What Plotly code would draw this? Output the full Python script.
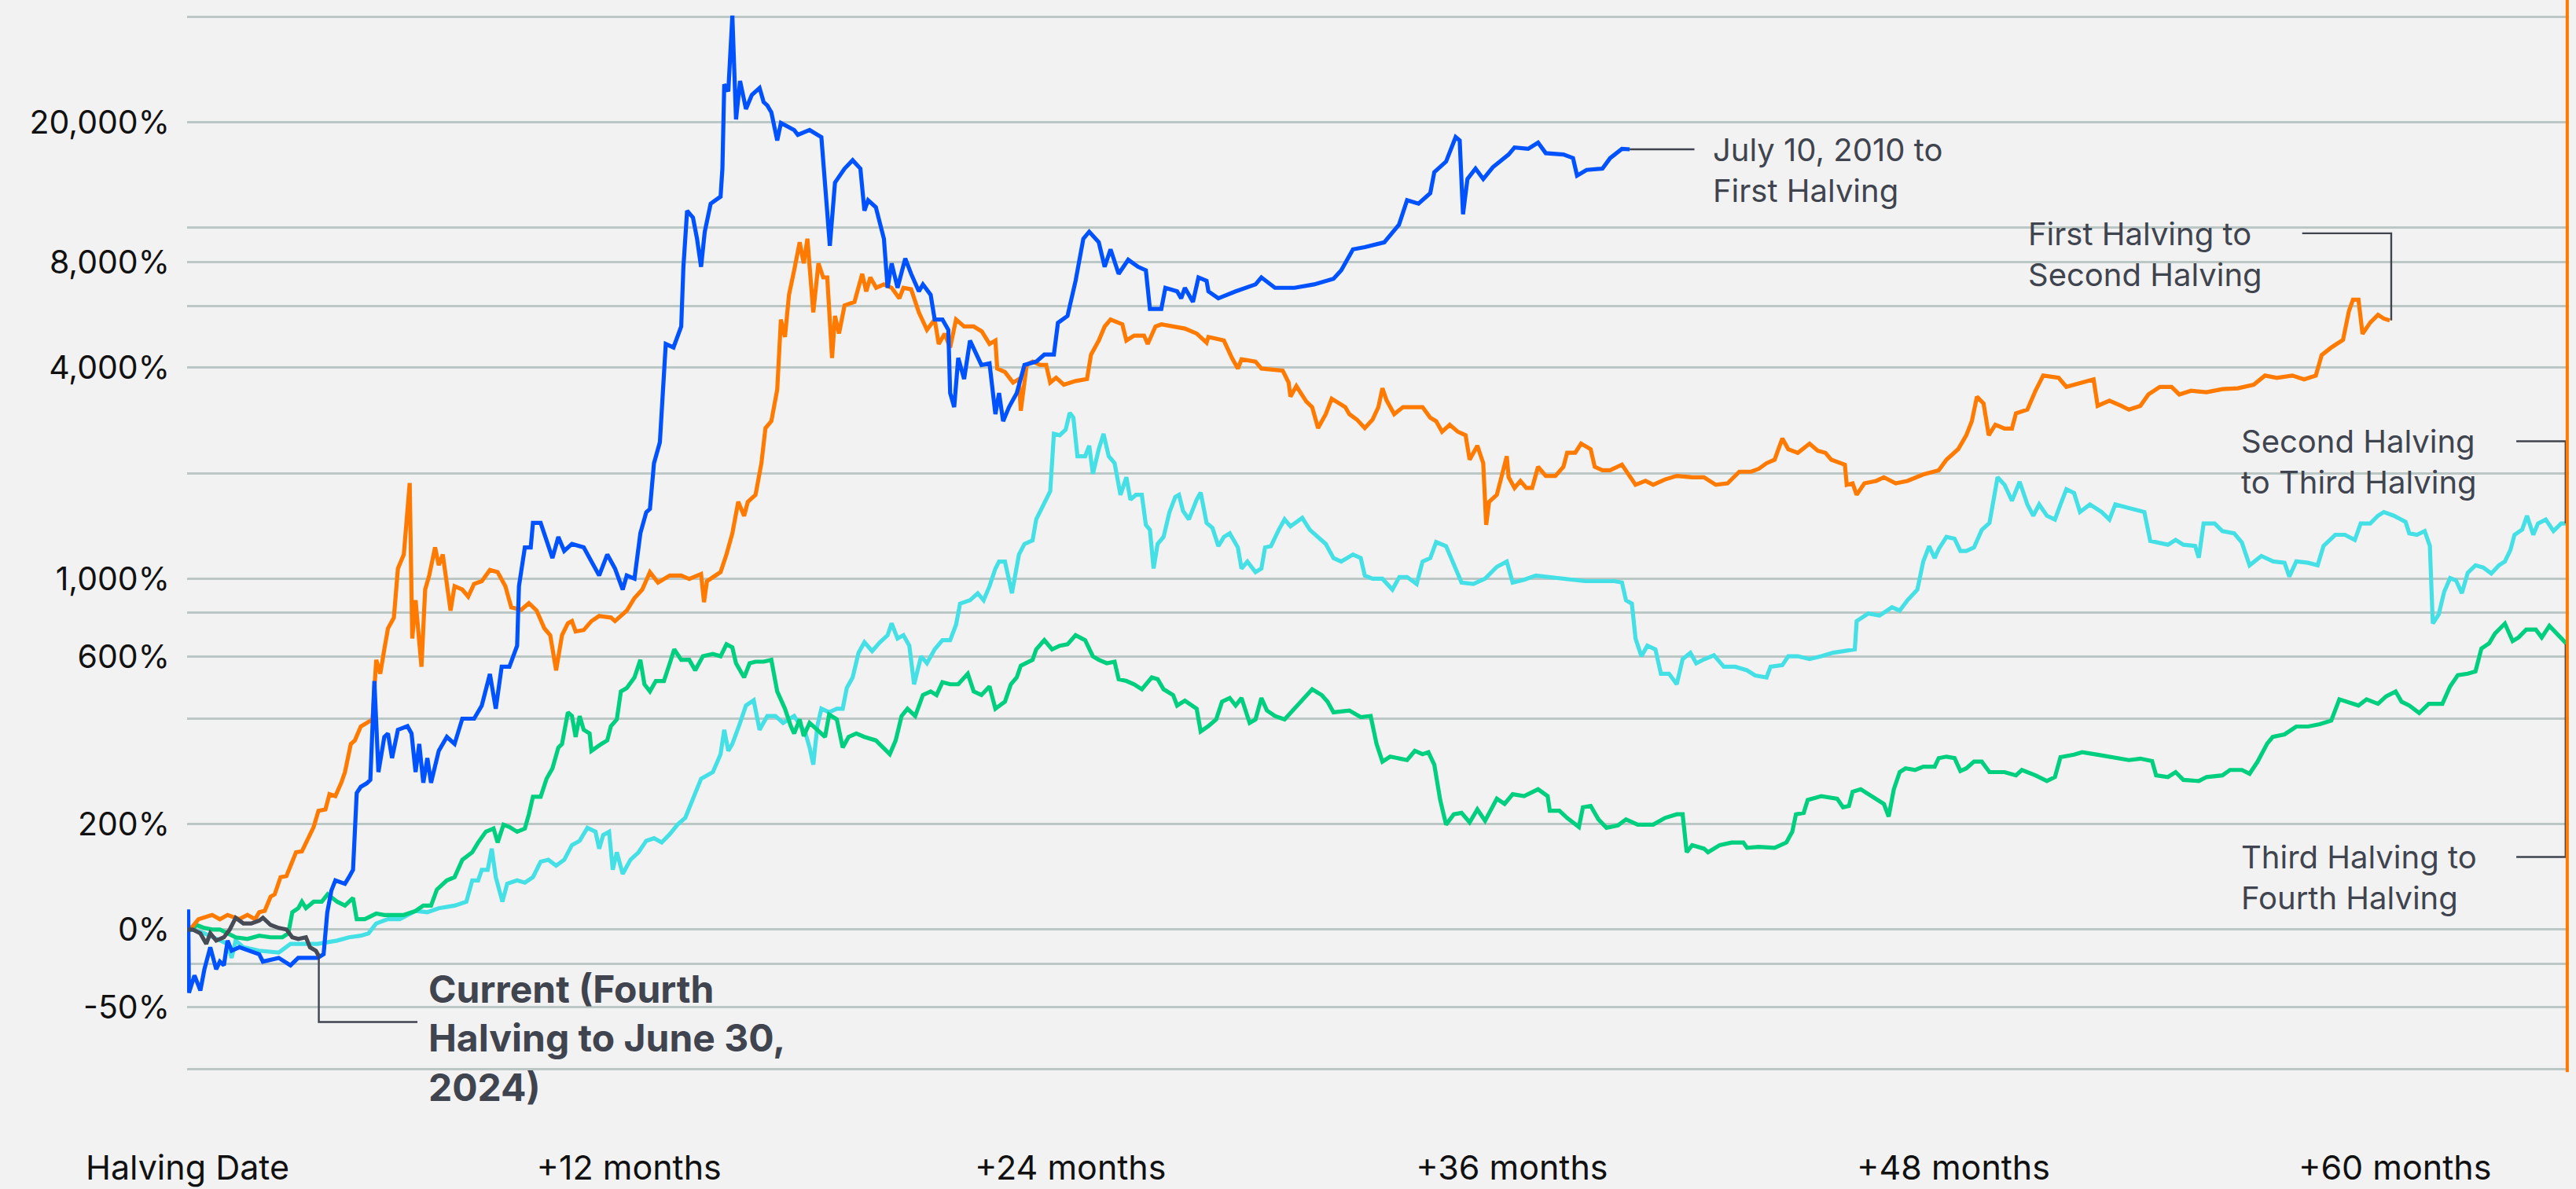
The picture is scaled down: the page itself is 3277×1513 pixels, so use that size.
import math
import plotly.graph_objects as go

# ---------------- data (x = months since halving, y = index, start = 100) ----------------
blue_x = [0, 0.02, 0.04, 0.19, 0.35, 0.46, 0.62, 0.78, 0.88, 0.99, 1.09, 1.2, 1.41, 1.95, 2.05, 2.48, 2.8, 3.01, 3.54, 3.7,
          3.8, 3.91, 4.02, 4.28, 4.39, 4.5, 4.6, 4.71, 4.87, 4.97, 5.08, 5.19, 5.35, 5.45, 5.56, 5.72, 5.98, 6.09, 6.2, 6.3,
          6.41, 6.52, 6.62, 6.83, 7.05, 7.26, 7.47, 7.79, 8.0, 8.22, 8.38, 8.54, 8.75, 8.96, 9.01, 9.17, 9.33, 9.39, 9.6, 9.81,
          9.92, 10.08, 10.24, 10.45, 10.77, 10.98, 11.19, 11.41, 11.62, 11.83, 11.94, 12.15, 12.31, 12.47, 12.57, 12.68, 12.84,
          13.0, 13.21, 13.42, 13.48, 13.58, 13.74, 13.85, 13.96, 14.06, 14.22, 14.49, 14.54, 14.59, 14.7, 14.81, 14.91, 15.02,
          15.18, 15.34, 15.55, 15.66, 15.76, 15.87, 16.03, 16.13, 16.49, 16.59, 16.91, 17.23, 17.33, 17.46, 17.6, 17.86, 18.08,
          18.29, 18.4, 18.5, 18.71, 18.93, 19.03, 19.14, 19.3, 19.51, 19.67, 19.88, 19.99, 20.2, 20.31, 20.52, 20.68, 20.73,
          20.84, 20.95, 21.11, 21.27, 21.58, 21.8, 21.96, 22.06, 22.17, 22.33, 22.54, 22.75, 23.07, 23.29, 23.55, 23.66, 23.92,
          24.14, 24.35, 24.51, 24.77, 24.93, 25.09, 25.31, 25.57, 25.84, 26.05, 26.16, 26.47, 26.58, 26.9, 27.01, 27.11, 27.33,
          27.48, 27.7, 27.75, 28.02, 28.49, 29.03, 29.19, 29.56, 30.09, 30.62, 31.15, 31.36, 31.68, 32.0, 32.53, 32.93, 33.15,
          33.46, 33.78, 33.89, 34.21, 34.47, 34.58, 34.67, 34.79, 35.01, 35.22, 35.48, 35.91, 36.07, 36.44, 36.71, 36.92, 37.4,
          37.66, 37.77, 38.03, 38.46, 38.67, 38.99, 39.2]
blue_y = [100, 114, 66, 74, 67, 77, 89, 77, 81, 79, 93, 87, 89, 85, 81, 83, 79, 83, 83, 85,
          112, 129, 138, 135, 141, 148, 245, 255, 261, 267, 511, 281, 354, 362, 308, 371, 380, 362, 281, 338,
          262, 308, 262, 323, 354, 338, 399, 399, 435, 535, 426, 561, 561, 644, 952, 1228, 1228, 1442, 1442, 1228,
          1145, 1315, 1200, 1256, 1228, 1119, 1021, 1172, 1069, 931, 1021, 1000, 1347, 1546, 1581, 2134, 2449,
          4667, 4560, 5235, 7745, 11197, 10696, 9312, 7745, 9751, 11723, 12275, 14758, 25657, 24493, 40273, 20380, 26237,
          21820, 23940, 25063, 22849, 22340, 21340, 17746, 19910, 19011, 18417, 19011, 18149, 12859, 8894, 13464, 14758, 15591,
          14758, 11197, 11995, 11451, 9312, 6748, 7925, 6748, 8185, 7396, 6591, 6901, 6445, 5481, 5481, 5120, 3382,
          3084, 4258, 3707, 4775, 4066, 4110, 2945, 3382, 2812, 3084, 3382, 4066, 4158, 4354, 4354, 5362, 5612,
          7065, 9312, 9751, 9096, 7745, 8686, 7396, 8113, 7745, 7568, 5876, 5876, 6748, 6591, 6296, 6748, 6153,
          7225, 7065, 6591, 6296, 6591, 6901, 7225, 6748, 6748, 6901, 7160, 7568, 8686, 8814, 9096, 10214, 11995,
          11723, 12561, 14417, 15454, 18149, 17746, 10936, 13779, 14758, 13779, 14890, 16189, 16951, 16800, 17498, 16332, 16189,
          15814, 14096, 14629, 14758, 15814, 16800, 16750]

orange_x = [0, 0.14, 0.3, 0.46, 0.67, 0.88, 1.09, 1.41, 1.63, 1.84, 1.95, 2.1, 2.26, 2.37, 2.53, 2.69, 2.85, 2.95, 3.11, 3.27,
            3.43, 3.56, 3.75, 3.86, 4.02, 4.18, 4.28, 4.44, 4.55, 4.71, 4.87, 5.03, 5.13, 5.24, 5.35, 5.45, 5.61, 5.72, 5.88,
            6.04, 6.11, 6.2, 6.36, 6.46, 6.57, 6.73, 6.83, 6.94, 7.15, 7.26, 7.47, 7.63, 7.79, 8.0, 8.22, 8.43, 8.64, 8.8, 9.07,
            9.28, 9.49, 9.7, 9.86, 10.02, 10.18, 10.34, 10.45, 10.55, 10.77, 10.98, 11.19, 11.51, 11.62, 11.94, 12.15, 12.36,
            12.57, 12.79, 13.11, 13.42, 13.64, 13.96, 14.04, 14.12, 14.49, 14.65, 14.81, 14.97, 15.13, 15.23, 15.44, 15.6,
            15.71, 15.87, 16.03, 16.13, 16.24, 16.35, 16.49, 16.64, 16.75, 16.85, 17.01, 17.15, 17.28, 17.39, 17.52, 17.6,
            17.71, 17.86, 18.13, 18.34, 18.45, 18.56, 18.72, 18.93, 19.14, 19.35, 19.46, 19.67, 19.88, 20.1, 20.31, 20.42,
            20.58, 20.73, 20.89, 21.11, 21.37, 21.59, 21.8, 21.96, 22.01, 22.22, 22.44, 22.6, 22.65, 22.81, 22.97, 23.18,
            23.34, 23.45, 23.61, 23.82, 24.14, 24.45, 24.56, 24.77, 24.93, 25.09, 25.41, 25.52, 25.73, 26.0, 26.1, 26.31,
            26.47, 26.9, 27.11, 27.43, 27.7, 27.75, 28.17, 28.39, 28.55, 28.65, 29.03, 29.19, 29.56, 29.77, 29.93, 29.98,
            30.14, 30.41, 30.57, 30.73, 30.94, 31.1, 31.47, 31.58, 31.79, 32.0, 32.21, 32.37, 32.48, 32.59, 32.8, 33.04,
            33.57, 33.78, 33.94, 34.1, 34.31, 34.53, 34.74, 34.85, 35.06, 35.22, 35.3, 35.38, 35.59, 35.75, 35.86, 35.91,
            36.07, 36.23, 36.39, 36.55, 36.71, 36.92, 37.18, 37.4, 37.5, 37.72, 37.88, 38.14, 38.25, 38.46, 38.67, 38.99,
            39.2, 39.36, 39.63, 39.84, 40.16, 40.48, 40.9, 41.22, 41.54, 41.86, 42.18, 42.5, 42.71, 42.92, 43.14, 43.35,
            43.51, 43.77, 44.09, 44.31, 44.52, 44.68, 45.05, 45.1, 45.26, 45.37, 45.58, 45.9, 46.11, 46.43, 46.75, 47.18,
            47.6, 47.81, 48.13, 48.35, 48.5, 48.64, 48.82, 48.96, 49.14, 49.39, 49.59, 49.7, 50.01, 50.23, 50.44, 50.86,
            51.07, 51.5, 51.81, 51.92, 52.24, 52.56, 52.77, 53.08, 53.3, 53.61, 53.93, 54.14, 54.46, 54.88, 55.31, 55.73,
            56.16, 56.47, 56.79, 57.21, 57.53, 57.85, 58.01, 58.27, 58.59, 58.75, 58.86, 59.01, 59.12, 59.33, 59.54, 59.7, 59.86]
orange_y = [100, 102, 107, 108, 110, 107, 110, 107, 110, 107, 112, 113, 124, 126, 141, 142, 158, 166, 167, 182,
            196, 218, 220, 243, 240, 262, 281, 338, 346, 379, 388, 397, 587, 536, 629, 722, 774, 1069, 1172,
            1874, 675, 868, 561, 931, 1021, 1228, 1093, 1172, 811, 952, 931, 889, 966, 984, 1059, 1044, 952, 829, 815,
            852, 811, 722, 690, 548, 690, 746, 757, 707, 714, 757, 783, 775, 757, 811, 881, 931,
            1044, 975, 1021, 1021, 998, 1031, 857, 984, 1044, 1172, 1347, 1656, 1510, 1656, 1734, 2134,
            2687, 2812, 3459, 5481, 4887, 6445, 7568, 9096, 7925, 9312, 5742, 7925, 7225, 7225, 4258, 5612,
            5000, 6012, 6153, 7396, 6591, 7225, 6748, 6901, 6748, 6296, 6748, 6684, 5742, 5120, 5481, 4667,
            4990, 4560, 5481, 5235, 5235, 5070, 4667, 4775, 3973, 3882, 3622, 3707, 3013, 4066, 4158, 4066,
            4066, 3622, 3740, 3573, 3660, 3707, 4354, 4775, 5235, 5481, 5310, 4775, 4931, 4931, 4667, 5235,
            5310, 5190, 5165, 5000, 4709, 4887, 4775, 4258, 3973, 4220, 4158, 3973, 3937, 3918, 3622, 3303,
            3540, 3200, 3084, 2687, 2945, 3258, 3084, 2945, 2839, 2687, 2839, 3084, 3490, 3230, 2945, 3084,
            3084, 2877, 2812, 2624, 2747, 2624, 2564, 2184, 2394, 2134, 1423, 1656, 1734, 2037, 2234, 1946,
            1815, 1900, 1815, 1815, 2084, 1963, 1963, 2084, 2285, 2285, 2427, 2340, 2084, 2037, 2037, 2114,
            1963, 1852, 1900, 1852, 1918, 1963, 1946, 1946, 1852, 1870, 2018, 2018, 2057, 2134, 2184, 2510,
            2340, 2285, 2427, 2318, 2285, 2184, 2114, 1852, 1870, 1734, 1870, 1900, 1946, 1870, 1900, 1982,
            2037, 2184, 2340, 2564, 2812, 3303, 3157, 2564, 2747, 2678, 2678, 2958, 3033, 3433, 3794, 3738,
            3522, 3610, 3700, 3109, 3218, 3109, 3033, 3109, 3351, 3522, 3522, 3351, 3433, 3400, 3470, 3490,
            3573, 3794, 3738, 3794, 3700, 3794, 4339, 4560, 4794, 5792, 6241, 6241, 4987, 5376, 5650, 5512, 5450]

cyan_x = [0, 0.14, 0.46, 0.88, 1.09, 1.2, 1.31, 1.52, 1.95, 2.48, 2.8, 3.22, 3.54, 4.07, 4.39, 4.71, 4.92, 5.13, 5.45, 5.77,
          6.2, 6.52, 6.83, 7.26, 7.58, 7.74, 7.9, 8.0, 8.16, 8.27, 8.38, 8.56, 8.69, 8.96, 9.17, 9.39, 9.6, 9.81, 10.02,
          10.24, 10.45, 10.66, 10.87, 11.09, 11.19, 11.3, 11.46, 11.56, 11.67, 11.83, 12.04, 12.26, 12.47, 12.68, 12.89,
          13.11, 13.32, 13.53, 13.74, 13.96, 14.12, 14.28, 14.49, 14.59, 14.7, 14.81, 15.02, 15.18, 15.39, 15.55, 15.76,
          15.98, 16.19, 16.49, 16.8, 16.91, 17.01, 17.12, 17.23, 17.44, 17.65, 17.81, 17.92, 18.08, 18.24, 18.4, 18.61,
          18.82, 19.03, 19.14, 19.3, 19.46, 19.62, 19.75, 19.94, 20.1, 20.31, 20.52, 20.73, 20.89, 21.0, 21.27, 21.48,
          21.64, 21.8, 21.96, 22.06, 22.22, 22.41, 22.6, 22.75, 22.97, 23.07, 23.29, 23.45, 23.55, 23.71, 23.87, 23.98,
          24.08, 24.19, 24.4, 24.51, 24.61, 24.77, 24.9, 25.04, 25.2, 25.36, 25.52, 25.63, 25.78, 25.94, 26.05, 26.16,
          26.26, 26.37, 26.53, 26.69, 26.85, 26.95, 27.06, 27.22, 27.43, 27.54, 27.7, 27.86, 28.02, 28.17, 28.33, 28.55,
          28.65, 28.81, 29.03, 29.19, 29.29, 29.45, 29.66, 29.82, 29.98, 30.3, 30.51, 30.73, 30.94, 31.15, 31.36, 31.68,
          31.89, 32.0, 32.21, 32.48, 32.75, 32.94, 33.15, 33.41, 33.57, 33.78, 33.94, 34.21, 34.42, 34.63, 34.95, 35.27,
          35.59, 35.86, 36.02, 36.33, 36.65, 36.97, 37.4, 37.99, 38.78, 38.99, 39.1, 39.26, 39.36, 39.52, 39.68, 39.9,
          40.05, 40.27, 40.48, 40.64, 40.85, 41.01, 41.22, 41.49, 41.76, 42.07, 42.39, 42.61, 42.92, 43.03, 43.35, 43.51,
          43.77, 44.09, 44.41, 44.73, 45.32, 45.37, 45.69, 45.99, 46.33, 46.54, 46.75, 47.02, 47.18, 47.34, 47.49, 47.6,
          47.81, 48.03, 48.19, 48.35, 48.56, 48.77, 48.98, 49.2, 49.39, 49.59, 49.8, 50.01, 50.17, 50.33, 50.54, 50.76,
          50.91, 51.07, 51.28, 51.44, 51.71, 52.03, 52.24, 52.4, 52.77, 53.19, 53.35, 53.61, 53.83, 54.04, 54.25, 54.57,
          54.67, 54.8, 55.1, 55.31, 55.63, 55.84, 56.05, 56.37, 56.69, 57.0, 57.13, 57.32, 57.64, 57.9, 58.06, 58.38,
          58.64, 58.91, 59.07, 59.33, 59.54, 59.7, 59.97, 60.29, 60.39, 60.6, 60.81, 60.95, 61.03, 61.19, 61.34, 61.5,
          61.66, 61.82, 61.98, 62.19, 62.4, 62.62, 62.83, 62.99, 63.14, 63.25, 63.46, 63.59, 63.76, 63.89, 64.1, 64.31,
          64.52, 64.68]
cyan_y = [100, 100, 97.5, 93, 91, 83, 93, 89, 87, 86, 91, 91, 91, 93, 95, 96, 97.5, 104, 107, 107,
          113, 112, 115, 117, 120, 138, 138, 148, 148, 170, 141, 120, 135, 138, 136, 141, 156, 158, 152,
          158, 174, 179, 195, 190, 170, 186, 190, 148, 166, 144, 158, 166, 179, 182, 177,
          187, 199, 208, 234, 269, 275, 281, 316, 371, 323, 338, 388, 435, 450, 371, 406,
          406, 388, 406, 362, 330, 295, 380, 426, 416, 426, 426, 488, 523, 615, 659, 622,
          659, 690, 746, 675, 690, 644, 500, 601, 574, 629, 668, 668, 739, 849, 868, 909,
          868, 952, 1069, 1119, 1119, 909, 1172, 1256, 1286, 1476, 1656, 1775, 2588, 2564, 2661, 2971,
          2877, 2234, 2234, 2394, 1991, 2340, 2588, 2234, 2134, 1734, 1946, 1680, 1734, 1734, 1423, 1378,
          1069, 1256, 1315, 1546, 1711, 1734, 1560, 1476, 1680, 1760, 1442, 1395, 1238, 1315, 1347, 1228,
          1069, 1119, 1044, 1069, 1228, 1238, 1377, 1476, 1410, 1490, 1377, 1315, 1256, 1145, 1119, 1172,
          1145, 1021, 1000, 1000, 931, 1011, 1011, 966, 1119, 1145, 1272, 1238, 1093, 975, 966, 1000,
          1081, 1119, 975, 993, 1021, 1011, 1000, 984, 984, 975, 868, 849, 675, 601, 644, 629,
          536, 536, 500, 590, 615, 574, 589, 605, 561, 561, 548, 530, 523, 561, 567, 601,
          601, 590, 601, 615, 629, 757, 796, 785, 829, 811, 868, 931, 1119, 1238, 1145, 1215,
          1315, 1300, 1200, 1200, 1228, 1377, 1442, 1946, 1852, 1668, 1890, 1628, 1512, 1628, 1512, 1474,
          1628, 1799, 1754, 1549, 1628, 1549, 1474, 1628, 1589, 1549, 1282, 1268, 1250, 1290, 1250, 1240,
          1148, 1437, 1437, 1367, 1347, 1268, 1092, 1161, 1120, 1110, 1014, 1120, 1110, 1092, 1240, 1334,
          1334, 1290, 1437, 1437, 1512, 1549, 1512, 1452, 1347, 1334, 1367, 1240, 745, 791, 918, 1004,
          989, 909, 1040, 1092, 1076, 1035, 1092, 1120, 1207, 1334, 1381, 1512, 1334, 1437, 1474, 1367,
          1437, 1437]

green_x = [0, 0.14, 0.24, 0.46, 0.67, 0.88, 1.09, 1.31, 1.63, 1.95, 2.26, 2.58, 2.74, 2.85, 3.01, 3.11, 3.22, 3.43, 3.65,
           3.81, 4.07, 4.28, 4.5, 4.6, 4.82, 5.13, 5.35, 5.56, 5.88, 6.2, 6.41, 6.62, 6.78, 7.05, 7.26, 7.47, 7.74, 7.9,
           8.11, 8.32, 8.43, 8.59, 8.75, 8.96, 9.17, 9.28, 9.39, 9.6, 9.76, 9.92, 10.08, 10.18, 10.34, 10.45, 10.55, 10.66,
           10.77, 10.93, 10.98, 11.25, 11.41, 11.51, 11.67, 11.78, 11.94, 12.15, 12.31, 12.42, 12.57, 12.73, 12.95, 13.11,
           13.23, 13.42, 13.64, 13.8, 14.01, 14.28, 14.49, 14.65, 14.81, 14.91, 15.13, 15.28, 15.44, 15.66, 15.87, 16.03,
           16.24, 16.4, 16.49, 16.64, 16.75, 16.91, 17.12, 17.33, 17.44, 17.65, 17.81, 17.97, 18.18, 18.4, 18.71, 18.93,
           19.09, 19.25, 19.41, 19.57, 19.78, 19.99, 20.2, 20.36, 20.52, 20.73, 20.95, 21.21, 21.37, 21.58, 21.8, 21.96,
           22.22, 22.38, 22.54, 22.65, 22.97, 23.07, 23.29, 23.5, 23.71, 23.92, 24.14, 24.4, 24.61, 24.77, 24.99, 25.2,
           25.31, 25.52, 25.73, 25.94, 26.21, 26.37, 26.53, 26.79, 26.9, 27.11, 27.43, 27.54, 27.75, 27.96, 28.12, 28.33,
           28.49, 28.65, 28.87, 29.03, 29.19, 29.34, 29.56, 29.82, 30.09, 30.41, 30.57, 30.83, 30.99, 31.15, 31.58, 31.89,
           32.16, 32.32, 32.48, 32.69, 32.94, 33.15, 33.36, 33.57, 33.73, 33.89, 34.05, 34.21, 34.42, 34.63, 34.85, 35.06,
           35.27, 35.59, 35.8, 36.02, 36.33, 36.71, 36.97, 37.03, 37.29, 37.5, 37.82, 37.93, 38.14, 38.35, 38.57, 38.88,
           39.1, 39.42, 39.84, 40.16, 40.48, 40.64, 40.75, 40.9, 41.22, 41.33, 41.65, 41.97, 42.29, 42.39, 42.71, 43.14,
           43.46, 43.62, 43.72, 43.93, 44.04, 44.41, 44.84, 45.0, 45.16, 45.26, 45.48, 45.69, 46.11, 46.24, 46.38, 46.54,
           46.7, 46.96, 47.18, 47.49, 47.6, 47.81, 48.03, 48.19, 48.35, 48.56, 48.77, 48.98, 49.39, 49.7, 49.86, 50.23,
           50.54, 50.76, 50.91, 51.28, 51.5, 51.92, 52.34, 52.77, 53.08, 53.4, 53.51, 53.83, 54.04, 54.25, 54.67, 54.88,
           55.31, 55.52, 55.84, 56.05, 56.26, 56.53, 56.68, 57.0, 57.32, 57.64, 57.96, 58.27, 58.49, 58.7, 59.01, 59.23,
           59.54, 59.76, 60.02, 60.18, 60.39, 60.66, 60.92, 61.29, 61.5, 61.71, 61.98, 62.19, 62.35, 62.56, 62.72, 62.99,
           63.2, 63.36, 63.57, 63.83, 63.99, 64.2, 64.41, 64.68]
green_y = [100, 100, 103, 101, 100, 100, 97.5, 95, 94, 96, 95, 95, 97.5, 112, 115, 120, 115, 120, 120,
           126, 120, 117, 123, 107, 107, 111, 110, 110, 110, 113, 117, 117, 130, 138, 141, 158, 166, 177,
           190, 194, 177, 199, 196, 190, 194, 213, 239, 239, 269, 288, 330, 338, 416, 406, 354, 406,
           371, 362, 323, 338, 346, 380, 397, 477, 488, 523, 587, 500, 477, 511, 511, 574,
           629, 587, 587, 548, 601, 610, 601, 650, 637, 574, 523, 574, 580, 580, 587, 477,
           426, 380, 362, 397, 356, 388, 371, 354, 410, 397, 330, 354, 362, 354, 346, 330,
           316, 346, 406, 426, 406, 466, 477, 466, 507, 500, 500, 536, 477, 466, 493, 426,
           446, 500, 523, 565, 587, 629, 668, 629, 644, 650, 690, 668, 601, 587, 574, 580,
           517, 511, 500, 484, 523, 517, 484, 466, 435, 449, 426, 367, 380, 397, 446, 457,
           435, 457, 388, 397, 457, 421, 406, 397, 426, 462, 484, 466, 446, 416, 421, 403,
           406, 338, 301, 311, 308, 304, 323, 316, 320, 295, 234, 199, 213, 215, 202, 220,
           204, 236, 228, 243, 240, 251, 240, 218, 218, 208, 196, 223, 225, 206, 195, 198,
           206, 199, 199, 208, 213, 213, 166, 174, 170, 166, 174, 177, 177, 171, 172, 171,
           177, 190, 213, 215, 234, 240, 236, 223, 225, 247, 251, 243, 228, 210, 251, 281,
           288, 285, 291, 291, 308, 311, 308, 283, 288, 301, 301, 281, 281, 275, 285, 275,
           265, 272, 310, 315, 320, 315, 310, 304, 307, 302, 275, 272, 281, 267, 265, 272,
           275, 285, 285, 278, 300, 339, 354, 360, 379, 379, 385, 394, 453, 446, 435, 453,
           440, 462, 477, 446, 435, 414, 440, 440, 493, 531, 536, 544, 632, 654, 698, 745,
           664, 680, 716, 716, 680, 734, 698, 650]

gray_x = [0, 0.14, 0.35, 0.51, 0.62, 0.78, 0.99, 1.15, 1.31, 1.52, 1.73, 1.95, 2.05, 2.26, 2.48, 2.69, 2.85, 3.01, 3.22,
          3.33, 3.49, 3.57]
gray_y = [100, 100, 97.5, 91, 97.5, 93, 95, 100, 108, 104, 104, 106, 108, 103, 101, 100, 95, 94, 95,
          89, 87, 84]

# axis ticks (index values on a log axis) and their printed labels
y_tickvals = [40, 60, 80, 100, 200, 400, 600, 800, 1000, 2000, 4000, 6000, 8000, 10000, 20000, 40000]
y_ticktext = ["", "-50%", "", "0%", "200%", "", "600%", "", "1,000%", "", "4,000%", "", "8,000%", "", "20,000%", ""]
x_tickvals = [0, 12, 24, 36, 48, 60]
x_ticktext = ["Halving Date", "+12 months", "+24 months", "+36 months", "+48 months", "+60 months"]

# labels: (text, x month, y index, bold)
labels = [
    ("July 10, 2010 to<br>First Halving", 41.42, 14640, False),
    ("First Halving to<br>Second Halving", 49.98, 8434, False),
    ("Second Halving<br>to Third Halving", 55.77, 2155, False),
    ("Third Halving to<br>Fourth Halving", 55.77, 141, False),
    ("Current (Fourth<br>Halving to June 30,<br>2024)", 6.5, 49, True),
]
# leader lines (x months, y index)
leaders = [
    ([39.2, 40.96], [16750, 16750]),
    ([59.9, 59.9, 57.48], [5450, 9650, 9650]),
    ([64.64, 64.64, 63.3], [1437, 2464, 2464]),
    ([64.64, 64.64, 63.3], [650, 161, 161]),
    ([3.57, 3.57, 6.25], [84, 54.5, 54.5]),
]

# ---------------- styles ----------------
BG = "#F2F2F2"
GRID = "#BAC7C4"
TXT = "#111111"
ANN = "#40444F"
FONT = "Inter, Roboto, 'Open Sans', sans-serif"

fig = go.Figure()

series = [
    (cyan_x, cyan_y, "#45DFE6"),
    (green_x, green_y, "#00CF7F"),
    (orange_x, orange_y, "#FF7A00"),
    (blue_x, blue_y, "#0052FF"),
    (gray_x, gray_y, "#474B55"),
]
for xs, ys, col in series:
    fig.add_trace(go.Scatter(x=xs, y=ys, mode="lines", line=dict(color=col, width=5.2),
                             hoverinfo="skip", showlegend=False))

for lx, ly in leaders:
    fig.add_trace(go.Scatter(x=lx, y=ly, mode="lines", line=dict(color=ANN, width=2.4),
                             hoverinfo="skip", showlegend=False))

for text, lx, ly, bold in labels:
    fig.add_annotation(
        x=lx, y=math.log10(ly), xref="x", yref="y", text=("<b>%s</b>" % text) if bold else text,
        showarrow=False, xanchor="left", yanchor="middle", align="left",
        font=dict(family=FONT, size=48 if bold else 40, color=ANN),
    )

# orange right border of the plotting area (from the lowest gridline to the top)
fig.add_shape(type="line", xref="paper", x0=0.9993, x1=0.9993, yref="paper", y0=0.0592, y1=1.0,
              line=dict(color="#FF7A00", width=4), layer="above")

fig.update_layout(
    width=3277, height=1513,
    margin=dict(l=238, r=9, t=0, b=63),
    paper_bgcolor=BG, plot_bgcolor=BG,
    showlegend=False,
    font=dict(family=FONT, color=TXT),
)
fig.update_xaxes(
    range=[-0.0107, 64.73], showgrid=False, zeroline=False, showline=False, ticks="",
    tickvals=x_tickvals, ticktext=x_ticktext, tickfont=dict(size=43, color=TXT, family=FONT),
    ticklabelstandoff=7, fixedrange=True,
)
fig.update_yaxes(
    type="log", range=[1.4014, 4.6496], showgrid=True, gridcolor=GRID, gridwidth=2.6,
    zeroline=False, showline=False, ticks="",
    tickvals=y_tickvals, ticktext=y_ticktext, tickfont=dict(size=41, color=TXT, family=FONT),
    ticklabelstandoff=21, fixedrange=True,
)

# remove the default page margin so the figure sits at the window's top-left corner
page_fix = ("document.body.style.margin='0px';"
            "document.documentElement.style.background='%s';"
            "document.body.style.background='%s';" % (BG, BG))
fig.write_html("out.html", post_script=page_fix, config={"displayModeBar": False})
